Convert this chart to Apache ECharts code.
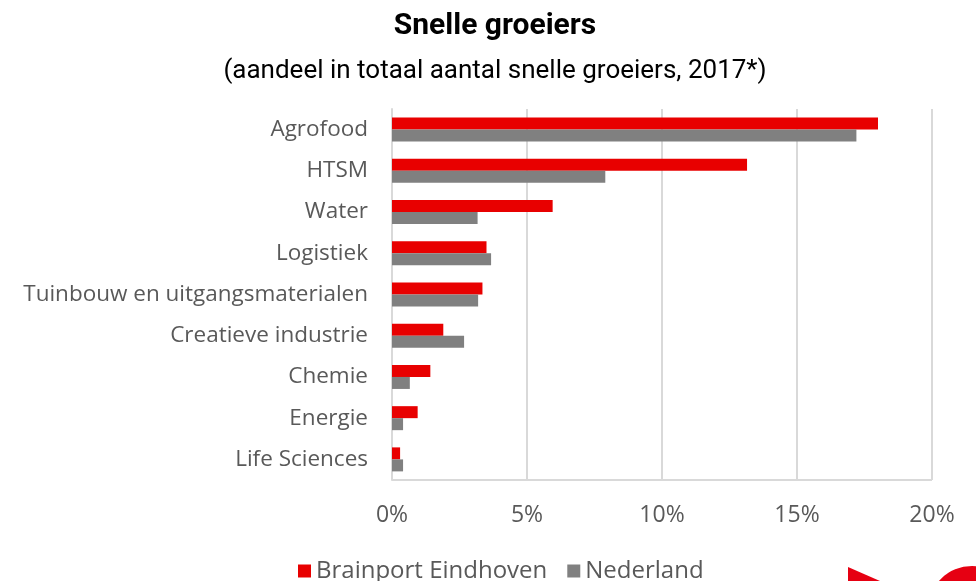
<!DOCTYPE html>
<html>
<head>
<meta charset="utf-8">
<script src="https://cdn.jsdelivr.net/npm/echarts@6/dist/echarts.min.js"></script>
<style>
  html, body { margin: 0; padding: 0; background: #fff; }
  #chart { width: 976px; height: 581px; }
</style>
</head>
<body>
<div id="chart"></div>
<script>
// categorieen, van boven naar beneden
const categories = [
  "Agrofood",
  "HTSM",
  "Water",
  "Logistiek",
  "Tuinbouw en uitgangsmaterialen",
  "Creatieve industrie",
  "Chemie",
  "Energie",
  "Life Sciences",
];
// aandeel in %
const brainport = [18.0, 13.15, 5.95, 3.5, 3.35, 1.9, 1.42, 0.95, 0.3];
const nederland = [17.2, 7.9, 3.17, 3.67, 3.19, 2.67, 0.66, 0.41, 0.41];
const xTicks = [0, 5, 10, 15, 20];

const font = "Roboto, 'Noto Sans', sans-serif";
const labelFont = "'Open Sans', Roboto, sans-serif";
const textGrey = "#595959";

let myChart = echarts.init(document.getElementById("chart"));
let option = {
  animation: false,
  title: [
    {
      text: "Snelle groeiers",
      left: 490,
      top: 6,
      textAlign: "center",
      textStyle: { fontFamily: font, fontSize: 30, fontWeight: "bold", color: "#000" },
    },
    {
      text: "(aandeel in totaal aantal snelle groeiers, 2017*)",
      left: 490,
      top: 53,
      textAlign: "center",
      textStyle: { fontFamily: font, fontSize: 26, fontWeight: "normal", color: "#000" },
    },
  ],
  legend: {
    top: 554,
    left: 293,
    itemWidth: 13,
    itemHeight: 13,
    itemGap: 20,
    icon: "rect",
    textStyle: { fontFamily: labelFont, fontSize: 24, color: textGrey },
    data: ["Brainport Eindhoven", "Nederland"],
  },
  grid: {
    left: 392,
    right: 44,
    top: 109,
    bottom: 101,
  },
  xAxis: {
    type: "value",
    min: xTicks[0],
    max: xTicks[xTicks.length - 1],
    interval: 5,
    axisLine: { show: false },
    axisTick: { show: false },
    splitLine: { show: true, lineStyle: { color: "#d9d9d9", width: 2 } },
    axisLabel: {
      margin: 24,
      fontFamily: labelFont,
      fontSize: 23,
      color: textGrey,
      formatter: (v) => v + "%",
    },
  },
  yAxis: {
    type: "category",
    data: categories,
    inverse: true,
    axisTick: { show: false },
    axisLine: { show: true, lineStyle: { color: "#d9d9d9", width: 2 } },
    axisLabel: {
      margin: 24,
      fontFamily: labelFont,
      fontSize: 22.5,
      color: textGrey,
    },
  },
  series: [
    {
      name: "Brainport Eindhoven",
      type: "bar",
      data: brainport,
      barWidth: 12,
      barGap: "0%",
      itemStyle: { color: "#e80000" },
    },
    {
      name: "Nederland",
      type: "bar",
      data: nederland,
      barWidth: 12,
      itemStyle: { color: "#808080" },
    },
  ],
  graphic: [
    // bodem-as
    {
      type: "line",
      shape: { x1: 392, y1: 480, x2: 932, y2: 480 },
      style: { stroke: "#d9d9d9", lineWidth: 2 },
    },
    // logo-stukjes rechtsonder
    {
      type: "polygon",
      shape: { points: [[848, 567], [880, 581], [848, 581]] },
      style: { fill: "#e60012" },
    },
    {
      type: "circle",
      shape: { cx: 972, cy: 610, r: 44 },
      style: { fill: "#e60012" },
    },
  ],
};
option && myChart.setOption(option);
</script>
</body>
</html>
